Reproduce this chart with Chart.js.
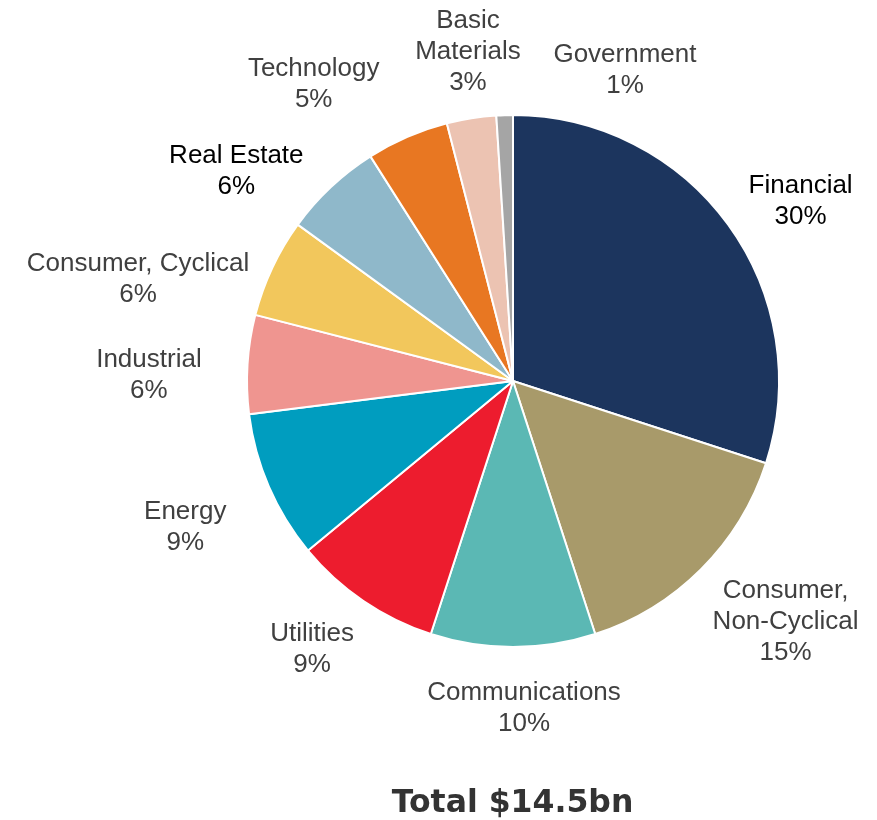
<!DOCTYPE html>
<html>
<head>
<meta charset="utf-8">
<script src="https://cdn.jsdelivr.net/npm/chart.js@4.4.0/dist/chart.umd.min.js"></script>
<style>
  body { margin: 0; background: #fff; }
  #wrap { position: relative; width: 877px; height: 820px; }
  #titulo {
    position: absolute; left: 148px; width: 729px; top: 782px;
    text-align: center; font-family: "DejaVu Sans", Verdana, sans-serif;
    font-weight: bold; font-size: 31.5px; line-height: 38px; color: #333333;
  }
</style>
</head>
<body>
<div id="wrap">
  <canvas id="pieChart" width="877" height="820"></canvas>
  <div id="titulo">Total $14.5bn</div>
</div>
<script>
const categorias = ['Financial', 'Consumer,\nNon-Cyclical', 'Communications', 'Utilities', 'Energy',
  'Industrial', 'Consumer, Cyclical', 'Real Estate', 'Technology', 'Basic\nMaterials', 'Government'];
const valores = [30, 15, 10, 9, 9, 6, 6, 6, 5, 3, 1];
const cores = ['#1c355e', '#a89a6a', '#5bb8b4', '#ed1c2e', '#009dbf',
  '#ef9590', '#f2c75c', '#8fb8ca', '#e87722', '#ecc3b2', '#a5a5a5'];
const corTexto = ['#000000', '#404040', '#404040', '#404040', '#404040',
  '#404040', '#404040', '#000000', '#404040', '#404040', '#404040'];

// ajustes manuais dos rotulos (como no original)
const ajustes = [[19, 3], [23, 10], [11, 16], [-20, 11], [-33, 23], [-32, 14],
  [-21, 31], [-39, 17], [-62, -11], [7, -7], [123, 0]];

const rotulosFora = {
  id: 'rotulosFora',
  afterDraw(chart) {
    const ctx = chart.ctx;
    const meta = chart.getDatasetMeta(0);
    const total = valores.reduce((a, b) => a + b, 0);
    const tam = 26, altLinha = 31;
    ctx.save();
    ctx.font = tam + 'px "Liberation Sans", Arial, sans-serif';
    ctx.textAlign = 'center';
    ctx.textBaseline = 'middle';
    meta.data.forEach((arc, i) => {
      const p = arc.getProps(['x', 'y', 'startAngle', 'endAngle', 'outerRadius'], true);
      const meio = (p.startAngle + p.endAngle) / 2;
      const dx = Math.cos(meio), dy = Math.sin(meio);
      const linhas = categorias[i].split('\n');
      linhas.push(Math.round(valores[i] / total * 100) + '%');
      let w = 0;
      linhas.forEach(l => { w = Math.max(w, ctx.measureText(l).width); });
      const h = linhas.length * altLinha;
      const px = p.x + (p.outerRadius + 14) * dx;
      const py = p.y + (p.outerRadius + 14) * dy;
      const cx = px + dx * w / 2 + ajustes[i][0];
      const cy = py + dy * h / 2 + ajustes[i][1];
      ctx.fillStyle = corTexto[i];
      linhas.forEach((l, k) => {
        ctx.fillText(l, cx, cy - h / 2 + altLinha * (k + 0.5));
      });
    });
    ctx.restore();
  }
};

new Chart(document.getElementById('pieChart').getContext('2d'), {
  type: 'pie',
  data: {
    labels: categorias,
    datasets: [{
      data: valores,
      backgroundColor: cores,
      borderColor: '#ffffff',
      borderWidth: 2
    }]
  },
  options: {
    responsive: false,
    animation: false,
    layout: { padding: { left: 246, right: 97, top: 114, bottom: 172 } },
    plugins: {
      legend: { display: false },
      tooltip: { enabled: false }
    }
  },
  plugins: [rotulosFora]
});
</script>
</body>
</html>
